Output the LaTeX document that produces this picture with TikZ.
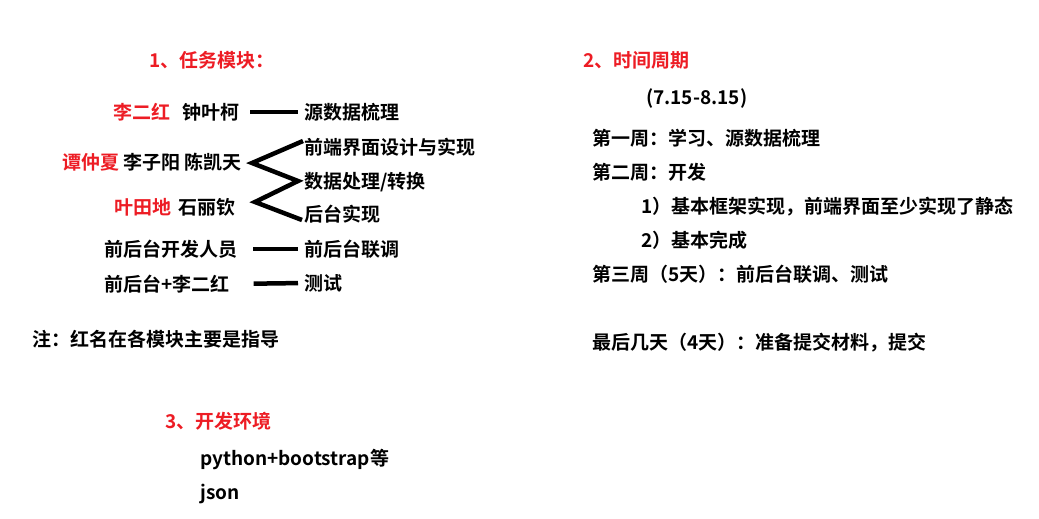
\documentclass[tikz,border=0pt]{standalone}
\usepackage{fontspec}
\setmainfont{Noto Sans CJK SC}[BoldFont={Noto Sans CJK SC Bold}]
\definecolor{namered}{RGB}{237,28,36}
\begin{document}
\begin{tikzpicture}[x=1pt,y=-1pt,
  lbl/.style={anchor=west,inner sep=0pt,text height=16.5pt,text depth=2pt,
    font=\fontsize{19}{22}\selectfont\bfseries},
  redlbl/.style={lbl,text=namered},
  link/.style={line width=4.5pt}]
  \fill[white] (0,0) rectangle (1039,519);
  \useasboundingbox (0,0) rectangle (1039,519);
  % task modules: who works on what
  \node[redlbl] (title1) at (149,60) {1、任务模块：};
  \node[redlbl] (li) at (113,112) {李二红};
  \node[lbl] (zhong) at (182,112) {钟叶柯};
  \node[redlbl] (tan) at (62,162) {谭仲夏};
  \node[lbl] (lzy) at (123,162) {李子阳 陈凯天};
  \node[redlbl] (ye) at (114,207) {叶田地};
  \node[lbl] (shi) at (178,207) {石丽钦};
  \node[lbl] (dev) at (104,249) {前后台开发人员};
  \node[lbl] (test) at (104,284) {前后台+李二红};
  \node[lbl] (yuan) at (304,112) {源数据梳理};
  \node[lbl] (fe) at (304,147) {前端界面设计与实现};
  \node[lbl] (sj) at (304,181) {数据处理/转换};
  \node[lbl] (ht) at (304,214) {后台实现};
  \node[lbl] (lt) at (304,249) {前后台联调};
  \node[lbl] (cs) at (304,283) {测试};
  \coordinate (v1) at (252,163);
  \coordinate (v3) at (255,202);
  \draw[link,shorten <=11pt,shorten >=6pt] (zhong.east) -- (yuan.west);
  \draw[link] ([xshift=-1pt,yshift=6pt]fe.west) -- (v1)
    -- ([xshift=-6pt]sj.west) -- (v3) -- ([xshift=-2pt,yshift=-6pt]ht.west);
  \draw[link,shorten <=16pt,shorten >=6pt] (dev.east) -- (lt.west);
  \draw[link,shorten <=24pt,shorten >=6pt] (test.east) -- (cs.west);
  \node[lbl] (note) at (32,339) {注：红名在各模块主要是指导};
  % development environment
  \node[redlbl] (title3) at (165,421) {3、开发环境};
  \node[lbl] (py) at (200,458) {python+bootstrap等};
  \node[lbl] (json) at (200,492) {json};
  % schedule
  \node[redlbl] (title2) at (583,60) {2、时间周期};
  \node[lbl] (dates) at (646,97) {(7.15-8.15)};
  \node[lbl] (wk1) at (592,138) {第一周：学习、源数据梳理};
  \node[lbl] (wk2) at (592,172) {第二周：开发};
  \node[lbl] (wk2a) at (641,206) {1）基本框架实现，前端界面至少实现了静态};
  \node[lbl] (wk2b) at (641,240) {2）基本完成};
  \node[lbl] (wk3) at (592,274) {第三周（5天）：前后台联调、测试};
  \node[lbl] (last) at (592,342) {最后几天（4天）：准备提交材料，提交};
\end{tikzpicture}
\end{document}
